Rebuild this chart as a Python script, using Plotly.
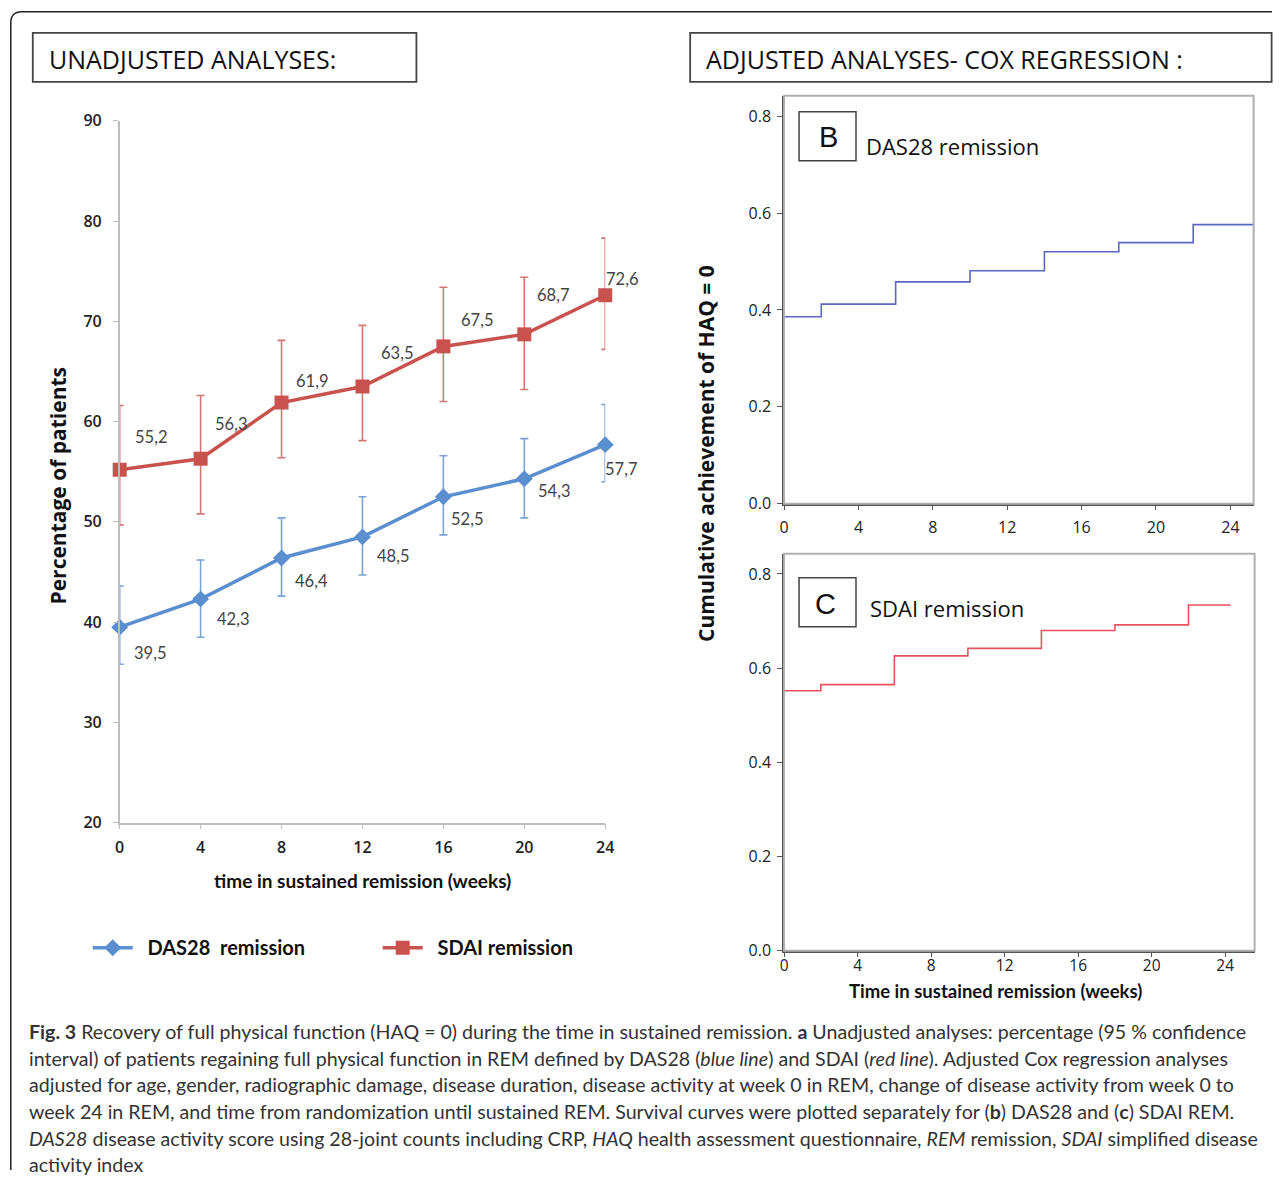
import plotly.graph_objects as go

# ---------------- data ----------------
weeks = [0, 4, 8, 12, 16, 20, 24]
das28_pct = [39.5, 42.3, 46.4, 48.5, 52.5, 54.3, 57.7]
das28_upper = [43.6, 46.2, 50.4, 52.5, 56.6, 58.3, 61.7]
das28_lower = [35.8, 38.5, 42.6, 44.7, 48.7, 50.4, 54.0]
sdai_pct = [55.2, 56.3, 61.9, 63.5, 67.5, 68.7, 72.6]
sdai_upper = [61.6, 62.6, 68.1, 69.6, 73.4, 74.4, 78.3]
sdai_lower = [49.7, 50.8, 56.4, 58.1, 62.0, 63.2, 67.2]

step_weeks = [0, 0, 2, 6, 10, 14, 18, 22]
das28_cum = [0.0, 0.386, 0.412, 0.458, 0.481, 0.520, 0.539, 0.576]
das28_end_week = 25.25
sdai_cum = [0.0, 0.552, 0.565, 0.626, 0.642, 0.680, 0.692, 0.734]
sdai_end_week = 24.3

left_xticks = [0, 4, 8, 12, 16, 20, 24]
left_yticks = [20, 30, 40, 50, 60, 70, 80, 90]
right_xticks = [0, 4, 8, 12, 16, 20, 24]
right_yticks = [0.0, 0.2, 0.4, 0.6, 0.8]

# label offsets (screen px: right, up)
das28_label_off = [(30, -26), (32, -20), (30, -23), (31, -19), (24, -22), (30, -12), (16, -24)]
sdai_label_off = [(31, 33), (30, 35), (30, 22), (35, 34), (34, 26), (29, 39), (17, 16)]

W, H = 1281, 1181
# the page is photographed slightly scaled/offset; map target pixels to figure fractions
AX, BX = 0.99, 4.2
AY, BY = 0.9815, 10.2
def px(r): return ((r - BX) / AX) / W
def py(r): return 1 - ((r - BY) / AY) / H

BLUE = "#5a8ecf"
BLUE_ERR = "#7aa3d6"
RED = "#c9524e"
RED_ERR = "#d47774"
STEP_BLUE = "#5b66c2"
STEP_RED = "#e8525e"
NB = "\u00a0"

fig = go.Figure()

# ---------------- left chart ----------------
fig.add_trace(go.Scatter(
    x=weeks, y=das28_pct, mode="lines+markers", name=NB * 2 + "DAS28" + NB * 2 + "remission",
    line=dict(color=BLUE, width=3.5),
    marker=dict(symbol="diamond", size=13, color=BLUE),
    error_y=dict(type="data", symmetric=False,
                 array=[u - v for u, v in zip(das28_upper, das28_pct)],
                 arrayminus=[v - l for v, l in zip(das28_pct, das28_lower)],
                 color=BLUE_ERR, thickness=1.6, width=4),
    cliponaxis=False, xaxis="x", yaxis="y"))
fig.add_trace(go.Scatter(
    x=weeks, y=sdai_pct, mode="lines+markers", name=NB * 2 + "SDAI remission",
    line=dict(color=RED, width=3.5),
    marker=dict(symbol="square", size=14, color=RED),
    error_y=dict(type="data", symmetric=False,
                 array=[u - v for u, v in zip(sdai_upper, sdai_pct)],
                 arrayminus=[v - l for v, l in zip(sdai_pct, sdai_lower)],
                 color=RED_ERR, thickness=1.6, width=4),
    cliponaxis=False, xaxis="x", yaxis="y"))

# ---------------- right charts ----------------
fig.add_trace(go.Scatter(
    x=step_weeks + [das28_end_week], y=das28_cum + [das28_cum[-1]],
    mode="lines", line=dict(color=STEP_BLUE, width=1.6, shape="hv"),
    showlegend=False, xaxis="x2", yaxis="y2"))
fig.add_trace(go.Scatter(
    x=step_weeks + [sdai_end_week], y=sdai_cum + [sdai_cum[-1]],
    mode="lines", line=dict(color=STEP_RED, width=1.6, shape="hv"),
    showlegend=False, xaxis="x3", yaxis="y3"))

annotations = []
lab_font = dict(family="Lato", size=16.5, color="#444")
for xv, yv, (dx, dy) in zip(weeks, das28_pct, das28_label_off):
    annotations.append(dict(x=xv, y=yv, xref="x", yref="y", text=f"{yv:.1f}".replace(".", ","),
                            xanchor="center", yanchor="middle",
                            showarrow=False, xshift=dx, yshift=dy, font=lab_font))
for xv, yv, (dx, dy) in zip(weeks, sdai_pct, sdai_label_off):
    annotations.append(dict(x=xv, y=yv, xref="x", yref="y", text=f"{yv:.1f}".replace(".", ","),
                            xanchor="center", yanchor="middle",
                            showarrow=False, xshift=dx, yshift=dy, font=lab_font))

def note(x, y, text, font, xanchor="center", yanchor="middle", angle=0):
    annotations.append(dict(x=px(x), y=py(y), xref="paper", yref="paper", text=text,
                            xanchor=xanchor, yanchor=yanchor, textangle=angle,
                            showarrow=False, font=font))

# axis titles
note(57, 485, "<b>Percentage of patients</b>", dict(family="Open Sans", size=21, color="#111"), angle=-90)
note(362, 880, "<b>time in sustained remission (weeks)</b>", dict(family="Lato", size=19, color="#111"))
note(706, 453, "<b>Cumulative achievement of HAQ = 0</b>", dict(family="Open Sans", size=21, color="#111"), angle=-90)
note(996, 990, "<b>Time in sustained remission (weeks)</b>", dict(family="Lato", size=18.5, color="#111"))

# headers
note(46, 58, "UNADJUSTED ANALYSES:", dict(family="Open Sans", size=25, color="#111"), xanchor="left")
note(704, 58, "ADJUSTED ANALYSES- COX REGRESSION :", dict(family="Open Sans", size=25, color="#111"), xanchor="left")

# panel labels
note(828, 136, "B", dict(family="Liberation Sans", size=29, color="#111"))
note(864, 145, "DAS28 remission", dict(family="Open Sans", size=22, color="#111"), xanchor="left")
note(825, 603, "C", dict(family="Liberation Sans", size=29, color="#111"))
note(868, 607, "SDAI remission", dict(family="Open Sans", size=22, color="#111"), xanchor="left")

# caption
caption_lines = [
    "<b>Fig. 3</b> Recovery of full physical function (HAQ = 0) during the time in sustained remission. <b>a</b> Unadjusted analyses: percentage (95 % confidence",
    "interval) of patients regaining full physical function in REM defined by DAS28 (<i>blue line</i>) and SDAI (<i>red line</i>). Adjusted Cox regression analyses",
    "adjusted for age, gender, radiographic damage, disease duration, disease activity at week 0 in REM, change of disease activity from week 0 to",
    "week 24 in REM, and time from randomization until sustained REM. Survival curves were plotted separately for (<b>b</b>) DAS28 and (<b>c</b>) SDAI REM.",
    "<i>DAS28</i> disease activity score using 28-joint counts including CRP, <i>HAQ</i> health assessment questionnaire, <i>REM</i> remission, <i>SDAI</i> simplified disease",
    "activity index",
]
for i, line in enumerate(caption_lines):
    note(26, 1031 + i * 26.6, line, dict(family="Lato", size=19.6, color="#333"), xanchor="left")

shapes = []
# outer frame with rounded top-left corner
shapes.append(dict(type="path", xref="paper", yref="paper",
                   path=f"M {px(10)},0 L {px(10)},{py(22)} Q {px(10)},{py(11)} {px(21)},{py(11)} L 1,{py(11)}",
                   line=dict(color="#222", width=1.5)))
# header boxes
shapes.append(dict(type="rect", xref="paper", yref="paper", x0=px(32), x1=px(416), y0=py(81), y1=py(32),
                   line=dict(color="#444", width=1.8)))
shapes.append(dict(type="rect", xref="paper", yref="paper", x0=px(690), x1=px(1272), y0=py(81), y1=py(32),
                   line=dict(color="#444", width=1.8)))
# panel letter boxes
shapes.append(dict(type="rect", xref="paper", yref="paper", x0=px(799), x1=px(856), y0=py(160), y1=py(111),
                   line=dict(color="#444", width=1.5)))
shapes.append(dict(type="rect", xref="paper", yref="paper", x0=px(799), x1=px(856), y0=py(626), y1=py(577),
                   line=dict(color="#444", width=1.5)))
# frames of right plots
shapes.append(dict(type="rect", xref="x2 domain", yref="y2 domain", x0=0, x1=1, y0=0, y1=1,
                   line=dict(color="#b0b0b0", width=2)))
shapes.append(dict(type="rect", xref="x3 domain", yref="y3 domain", x0=0, x1=1, y0=0, y1=1,
                   line=dict(color="#b0b0b0", width=2)))

left_tick_font = dict(family="Open Sans", size=16, color="#222", weight=600)
right_tick_font = dict(family="Open Sans", size=16, color="#222")
c_xtick_font = dict(family="Open Sans", size=15.5, color="#222")

fig.update_layout(
    width=W, height=H, margin=dict(l=0, r=0, t=0, b=0),
    paper_bgcolor="white", plot_bgcolor="white",
    showlegend=True,
    legend=dict(orientation="h", x=px(87), y=py(947), xanchor="left", yanchor="middle",
                font=dict(family="Lato", size=20, color="#111", weight=700),
                entrywidth=235, entrywidthmode="pixels", itemwidth=40,
                bgcolor="rgba(0,0,0,0)"),
    xaxis=dict(domain=[px(119), px(605)], range=[0, 24], tickvals=left_xticks,
               showline=True, linecolor="#bdbdbd", linewidth=1.5, ticks="outside", ticklen=5,
               tickcolor="#bdbdbd", showgrid=False, zeroline=False, tickfont=left_tick_font,
               ticklabelstandoff=4, anchor="y"),
    yaxis=dict(domain=[py(822), py(120)], range=[20, 90], tickvals=left_yticks,
               showline=True, linecolor="#bdbdbd", linewidth=1.5, ticks="outside", ticklen=5,
               tickcolor="#bdbdbd", showgrid=False, zeroline=False, tickfont=left_tick_font,
               ticklabelstandoff=8, anchor="x"),
    xaxis2=dict(domain=[px(784), px(1254)], range=[0, 25.25], tickvals=right_xticks,
                showline=True, linecolor="#555", linewidth=1.5, ticks="outside", ticklen=5,
                tickcolor="#555", showgrid=False, zeroline=False, tickfont=right_tick_font,
                ticklabelstandoff=3, anchor="y2"),
    yaxis2=dict(domain=[py(503), py(95)], range=[0, 0.842], tickvals=right_yticks, tickformat=".1f",
                showline=True, linecolor="#555", linewidth=1.5, ticks="outside", ticklen=5,
                tickcolor="#555", showgrid=False, zeroline=False, tickfont=right_tick_font,
                ticklabelstandoff=3, anchor="x2"),
    xaxis3=dict(domain=[px(784), px(1255)], range=[0, 25.6], tickvals=right_xticks,
                showline=True, linecolor="#555", linewidth=1.5, ticks="outside", ticklen=5,
                tickcolor="#555", showgrid=False, zeroline=False, tickfont=c_xtick_font,
                ticklabelstandoff=-5, anchor="y3"),
    yaxis3=dict(domain=[py(950), py(553)], range=[0, 0.843], tickvals=right_yticks, tickformat=".1f",
                showline=True, linecolor="#555", linewidth=1.5, ticks="outside", ticklen=5,
                tickcolor="#555", showgrid=False, zeroline=False, tickfont=right_tick_font,
                ticklabelstandoff=3, anchor="x3"),
    annotations=annotations, shapes=shapes,
)

fig.write_html("out.html")
